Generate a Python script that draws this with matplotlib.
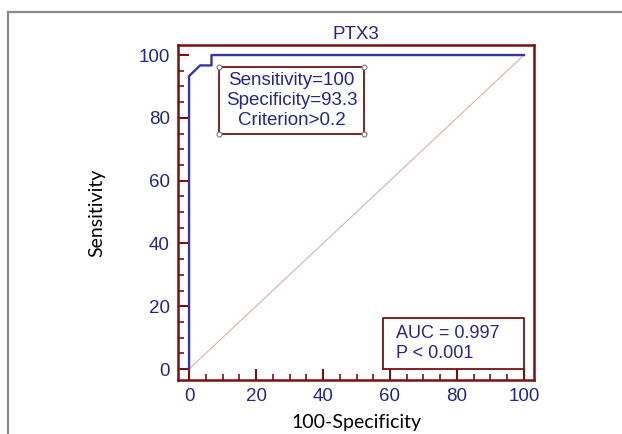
import matplotlib
matplotlib.use("Agg")
import matplotlib.pyplot as plt
from matplotlib.lines import Line2D
from matplotlib.ticker import MultipleLocator

# ROC curve points (100-Specificity, Sensitivity)
fpr = [0, 0, 3.3, 6.7, 6.7, 100]
tpr = [0, 93.3, 96.7, 96.7, 100, 100]
diag = [0, 100]

ticks = [0, 20, 40, 60, 80, 100]
crit_lines = ["Sensitivity=100", "Specificity=93.3", "Criterion>0.2"]
crit_box = [9, 52.2, 74.8, 96.2]   # x0, x1, y0, y1
auc_lines = ["AUC = 0.997", "P < 0.001"]
auc_box = [58, 100, 0, 16.2]

NAVY = "#25258c"
DRED = "#7a1010"
BLUE = "#3535a5"

plt.rcParams["font.family"] = ["Liberation Sans", "DejaVu Sans"]

fig = plt.figure(figsize=(6.22, 4.34), dpi=100)
ax = fig.add_axes([178 / 622, 54 / 434, 356 / 622, 335 / 434])

# outer gray frame
fig.add_artist(Line2D([8 / 622, 1], [1 - 12 / 434, 1 - 12 / 434], transform=fig.transFigure, color="#8a8a8a", lw=1.6))
fig.add_artist(Line2D([8 / 622, 8 / 622], [0, 1 - 12 / 434], transform=fig.transFigure, color="#8a8a8a", lw=1.6))

ax.plot(diag, diag, color="#d9b0b0", lw=0.8)
ax.plot(fpr, tpr, color=BLUE, lw=1.7)

ax.set_xlim(-3.3, 103)
ax.set_ylim(-3.5, 103.2)

for s in ax.spines.values():
    s.set_color(DRED)
    s.set_linewidth(1.8)

ax.set_xticks(ticks)
ax.set_yticks(ticks)
ax.xaxis.set_minor_locator(MultipleLocator(5))
ax.yaxis.set_minor_locator(MultipleLocator(5))
ax.tick_params(which="major", direction="in", length=8, width=1.5, color=DRED,
               labelcolor=NAVY, labelsize=13.5, pad=6)
ax.tick_params(which="minor", direction="in", length=4.5, width=1.2, color=DRED)

ax.set_title("PTX3", color=NAVY, fontsize=13.5, pad=4)
ax.set_xlabel("100-Specificity", family="Lato", fontsize=14, color="black", labelpad=6)
ax.set_ylabel("Sensitivity", family="Lato", fontsize=14, color="black", labelpad=24)

# criterion box with corner handles
x0, x1, y0, y1 = crit_box
ax.plot([x0, x1, x1, x0, x0], [y0, y0, y1, y1, y0], color=DRED, lw=1.3)
ax.plot([x0, x1, x1, x0], [y0, y0, y1, y1], ls="none", marker="o", ms=3.5,
        mfc="white", mec="#777777", mew=0.8)
ax.text((x0 + x1) / 2, (y0 + y1) / 2, "\n".join(crit_lines), ha="center", va="center",
        color=NAVY, fontsize=13.5, linespacing=1.2)

# AUC box
x0, x1, y0, y1 = auc_box
ax.plot([x0, x1, x1, x0, x0], [y0, y0, y1, y1, y0], color=DRED, lw=1.3)
ax.text(x0 + 3.8, (y0 + y1) / 2, "\n".join(auc_lines), ha="left", va="center",
        color=NAVY, fontsize=13, linespacing=1.2)

fig.savefig("out.png", dpi=100)
